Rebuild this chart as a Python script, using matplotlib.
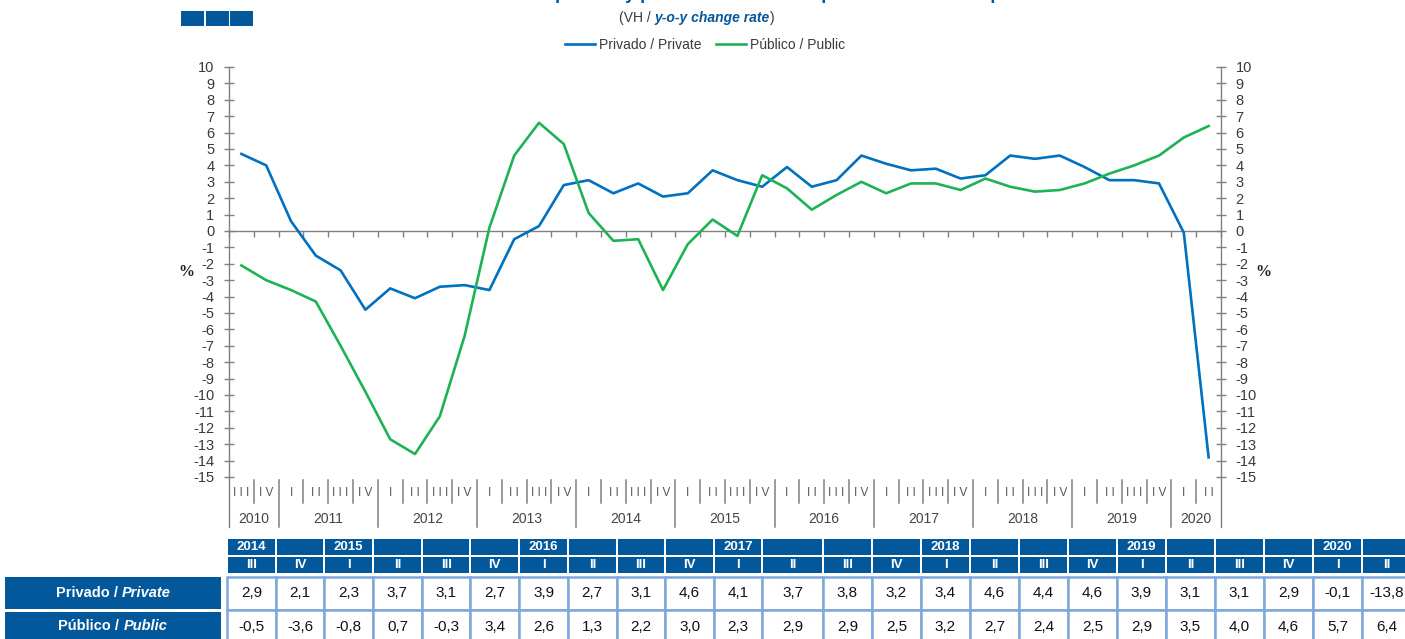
import matplotlib
matplotlib.use("Agg")
import matplotlib.pyplot as plt
from matplotlib import transforms
from matplotlib.patches import Rectangle
from matplotlib.lines import Line2D

plt.rcParams['font.family'] = ['Liberation Sans', 'DejaVu Sans']
plt.rcParams['axes.unicode_minus'] = False

# ---------------- data ----------------
years = ["2010", "2011", "2012", "2013", "2014", "2015", "2016", "2017", "2018", "2019", "2020"]
year_quarters = [["III", "IV"]] + [["I", "II", "III", "IV"]] * 9 + [["I", "II"]]

private = [4.7, 4.0, 0.6, -1.5, -2.4, -4.8, -3.5, -4.1, -3.4, -3.3, -3.6, -0.5, 0.3, 2.8, 3.1, 2.3,
           2.9, 2.1, 2.3, 3.7, 3.1, 2.7, 3.9, 2.7, 3.1, 4.6, 4.1, 3.7, 3.8, 3.2, 3.4, 4.6, 4.4, 4.6,
           3.9, 3.1, 3.1, 2.9, -0.1, -13.8]
public = [-2.1, -3.0, -3.6, -4.3, -7.0, -9.8, -12.7, -13.6, -11.3, -6.4, 0.2, 4.6, 6.6, 5.3, 1.1, -0.6,
          -0.5, -3.6, -0.8, 0.7, -0.3, 3.4, 2.6, 1.3, 2.2, 3.0, 2.3, 2.9, 2.9, 2.5, 3.2, 2.7, 2.4, 2.5,
          2.9, 3.5, 4.0, 4.6, 5.7, 6.4]
series_names = ["Privado / Private", "Público / Public"]
table_row_labels = [("Privado / ", "Private"), ("Público / ", "Public")]
n_table = 24

title = "Consumo final privado y público / Private and public final consumption"
subtitle_parts = ["(VH / ", "y-o-y change rate", ")"]

# ---------------- styles ----------------
W, H = 1405, 639
BLUE = "#0070C0"
GREEN = "#1DB355"
DARK = "#03589c"
BORDER = "#7ea8dc"
AXC = "#808080"
TXT = "#3a3a3a"

fig = plt.figure(figsize=(W / 100, H / 100), dpi=100)

# pixel overlay axes
ov = fig.add_axes([0, 0, 1, 1], zorder=0)
ov.set_xlim(0, W)
ov.set_ylim(H, 0)
ov.axis("off")

# main chart axes: x 229..1221 px, y 67..477 px
L, R, T, B = 229, 1221, 67, 477
ax = fig.add_axes([L / W, 1 - B / H, (R - L) / W, (B - T) / H], zorder=2)
ax.patch.set_alpha(0)

quarters = [q for qs in year_quarters for q in qs]
n = len(quarters)
x = list(range(n))
ax.plot(x, private, color=BLUE, lw=1.9, solid_joinstyle="round", zorder=3)
ax.plot(x, public, color=GREEN, lw=1.9, solid_joinstyle="round", zorder=3)

ax.set_xlim(-0.5, n - 0.5)
ax.set_ylim(-15, 10)
ax.set_yticks(range(-15, 11))
ax.spines["top"].set_visible(False)
for s in ["left", "right", "bottom"]:
    ax.spines[s].set_color(AXC)
    ax.spines[s].set_linewidth(1.0)
ax.spines["bottom"].set_position(("data", 0))
ax.set_xticks([i - 0.5 for i in range(n + 1)])
ax.tick_params(axis="x", direction="out", length=4.5, color=AXC, width=1, labelbottom=False)
ax.tick_params(axis="y", left=True, right=True, labelleft=True, labelright=True,
               direction="inout", length=7, width=1, color=AXC, labelsize=10.5,
               labelcolor=TXT, pad=7)

# % labels
ov.text(186, 272, "%", fontsize=11.5, fontweight="bold", family="Liberation Serif",
        ha="center", va="center", color="#222222")
ov.text(1263, 272, "%", fontsize=11.5, fontweight="bold", family="Liberation Serif",
        ha="center", va="center", color="#222222")

# category axis under the plot
bt = transforms.blended_transform_factory(ax.transData, ov.transData)
ov.plot([L, L], [B, 527], color=AXC, lw=1.0)
ov.plot([R, R], [B, 527], color=AXC, lw=1.0)
idx = 0
for yi, (yr, qs) in enumerate(zip(years, year_quarters)):
    start = idx
    for qi, q in enumerate(qs):
        ov.text(idx, 493, " ".join(q), transform=bt, ha="center", va="center", fontsize=8.5,
                color="#555555")
        if qi < len(qs) - 1:
            ov.plot([idx + 0.5, idx + 0.5], [B + 3, 503], transform=bt, color=AXC, lw=1.1)
        idx += 1
    ov.text((start + idx - 1) / 2, 519, yr, transform=bt, ha="center", va="center",
            fontsize=10, color="#444444")
    if yi < len(years) - 1:
        ov.plot([idx - 0.5, idx - 0.5], [B + 3, 527], transform=bt, color=AXC, lw=1.1)

# ---------------- header: logo, title, subtitle, legend ----------------
for x0 in (181, 205.5, 230):
    ov.add_patch(Rectangle((x0, 11), 23, 14.5, color=DARK, lw=0))
ov.text(730, 3, title, ha="center", va="bottom", fontsize=13, fontweight="bold", color=DARK)

fig.canvas.draw()
renderer = fig.canvas.get_renderer()
styles = [dict(color=TXT, fontstyle="normal", fontweight="normal"),
          dict(color=DARK, fontstyle="italic", fontweight="bold"),
          dict(color=TXT, fontstyle="normal", fontweight="normal")]
pieces = []
for p, st in zip(subtitle_parts, styles):
    t = ov.text(0, 18, p, ha="left", va="center", fontsize=10, **st)
    pieces.append(t)
widths = [t.get_window_extent(renderer).width for t in pieces]
xcur = 697 - sum(widths) / 2
for t, w in zip(pieces, widths):
    t.set_x(xcur)
    xcur += w

handles = [Line2D([], [], color=BLUE, lw=1.9), Line2D([], [], color=GREEN, lw=1.9)]
fig.legend(handles, series_names, loc="center", bbox_to_anchor=(705 / W, 1 - 45 / H),
           ncol=2, frameon=False, fontsize=10, handlelength=2.2, handletextpad=0.3,
           columnspacing=1.0, labelcolor=TXT)

# ---------------- table ----------------
tab_private = private[-n_table:]
tab_public = public[-n_table:]
tab_quarters = quarters[-n_table:]
tab_years = []
for yr, qs in zip(years, year_quarters):
    for qi, q in enumerate(qs):
        tab_years.append(yr if qi == 0 else "")
tab_years = tab_years[-n_table:]
if tab_years[0] == "":
    tab_years[0] = years[4]

pitches = [48.7] * 10 + [48.0, 61.0] + [49.0] * 12
lefts = []
xc = 228
for p in pitches:
    lefts.append(xc)
    xc += p

def fmt(v):
    return f"{v:.1f}".replace(".", ",")

for j in range(n_table):
    x0 = lefts[j]
    w = pitches[j] - 2
    ov.add_patch(Rectangle((x0, 539), w, 16, color=DARK, lw=0))
    ov.add_patch(Rectangle((x0, 557), w, 16, color=DARK, lw=0))
    ov.text(x0 + w / 2, 547.5, tab_years[j], ha="center", va="center", fontsize=9.5,
            fontweight="bold", color="white")
    ov.text(x0 + w / 2, 565, tab_quarters[j], ha="center", va="center", fontsize=9.5,
            fontweight="bold", color="white")
    ov.add_patch(Rectangle((x0 - 1, 577), pitches[j], 33, facecolor="white",
                           edgecolor=BORDER, lw=1.8))
    ov.add_patch(Rectangle((x0 - 1, 610), pitches[j], 33, facecolor="white",
                           edgecolor=BORDER, lw=1.8))
    ov.text(x0 + w / 2, 593, fmt(tab_private[j]), ha="center", va="center",
            fontsize=11, color="#111111")
    ov.text(x0 + w / 2, 627, fmt(tab_public[j]), ha="center", va="center",
            fontsize=11, color="#111111")

for (a, b), yc, y0, hh in zip(table_row_labels, (593, 626), (577, 612), (32, 30)):
    ov.add_patch(Rectangle((5, y0), 216, hh, color=DARK, lw=0))
    ta = ov.text(0, yc, a, ha="left", va="center", fontsize=10.5, fontweight="bold", color="white")
    tb = ov.text(0, yc, b, ha="left", va="center", fontsize=10.5, fontweight="bold",
                 fontstyle="italic", color="white")
    wa = ta.get_window_extent(renderer).width
    wb = tb.get_window_extent(renderer).width
    start = 113 - (wa + wb) / 2
    ta.set_x(start)
    tb.set_x(start + wa)

fig.savefig("out.png", dpi=100)
